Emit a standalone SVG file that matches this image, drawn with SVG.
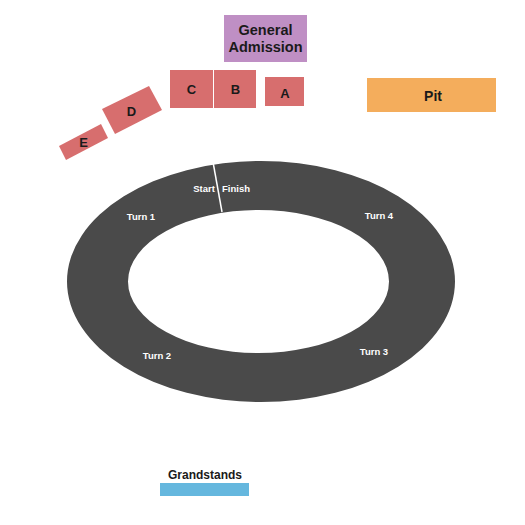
<svg xmlns="http://www.w3.org/2000/svg" width="525" height="525" viewBox="0 0 525 525">
<style>
.sec{fill:#d76e6e}
.lbl{font-family:"Liberation Sans",Arial,sans-serif;font-weight:bold;fill:#1a1a1a;text-anchor:middle}
.trk{font-family:"Liberation Sans",Arial,sans-serif;font-weight:bold;fill:#ffffff;font-size:9.5px;text-anchor:middle}
</style>
<rect width="525" height="525" fill="#ffffff"/>
<g id="track">
<path fill="#4a4a4a" fill-rule="evenodd" d="M67,281.5 A194,120.5 0 1,0 455,281.5 A194,120.5 0 1,0 67,281.5 Z M128,281.5 A130.5,71.5 0 1,0 389,281.5 A130.5,71.5 0 1,0 128,281.5 Z"/>
<line x1="213" y1="162" x2="222" y2="212" stroke="#ffffff" stroke-width="1.5"/>
<text class="trk" x="204" y="192">Start</text>
<text class="trk" x="236" y="192">Finish</text>
<text class="trk" x="141" y="220">Turn 1</text>
<text class="trk" x="379" y="219">Turn 4</text>
<text class="trk" x="157" y="359">Turn 2</text>
<text class="trk" x="374" y="355">Turn 3</text>
</g>
<g id="ga">
<rect x="224" y="15" width="83" height="47" fill="#bf8fc4"/>
<text class="lbl" font-size="14.5" x="265.5" y="35">General</text>
<text class="lbl" font-size="14.5" x="265.5" y="52">Admission</text>
</g>
<g id="sec-c">
<rect class="sec" x="170" y="70" width="43" height="38"/>
<text class="lbl" font-size="13" x="191.5" y="94">C</text>
</g>
<g id="sec-b">
<rect class="sec" x="214" y="70" width="42" height="38"/>
<text class="lbl" font-size="13" x="235.5" y="94">B</text>
</g>
<g id="sec-a">
<rect class="sec" x="265" y="77" width="39" height="29"/>
<text class="lbl" font-size="13" x="285" y="98">A</text>
</g>
<g id="sec-d">
<polygon class="sec" points="102,109 149,86 162,110 115,134"/>
<text class="lbl" font-size="13" x="131.5" y="116">D</text>
</g>
<g id="sec-e">
<polygon class="sec" points="59,146 101,124 108,138 66,160"/>
<text class="lbl" font-size="13" x="83.5" y="147">E</text>
</g>
<g id="pit">
<rect x="367" y="78" width="129" height="34" fill="#f4ad5c"/>
<text class="lbl" font-size="14" x="433" y="101">Pit</text>
</g>
<g id="grandstands">
<rect x="160" y="483" width="89" height="13" fill="#65b7de"/>
<text class="lbl" font-size="12" x="205" y="479">Grandstands</text>
</g>
</svg>
